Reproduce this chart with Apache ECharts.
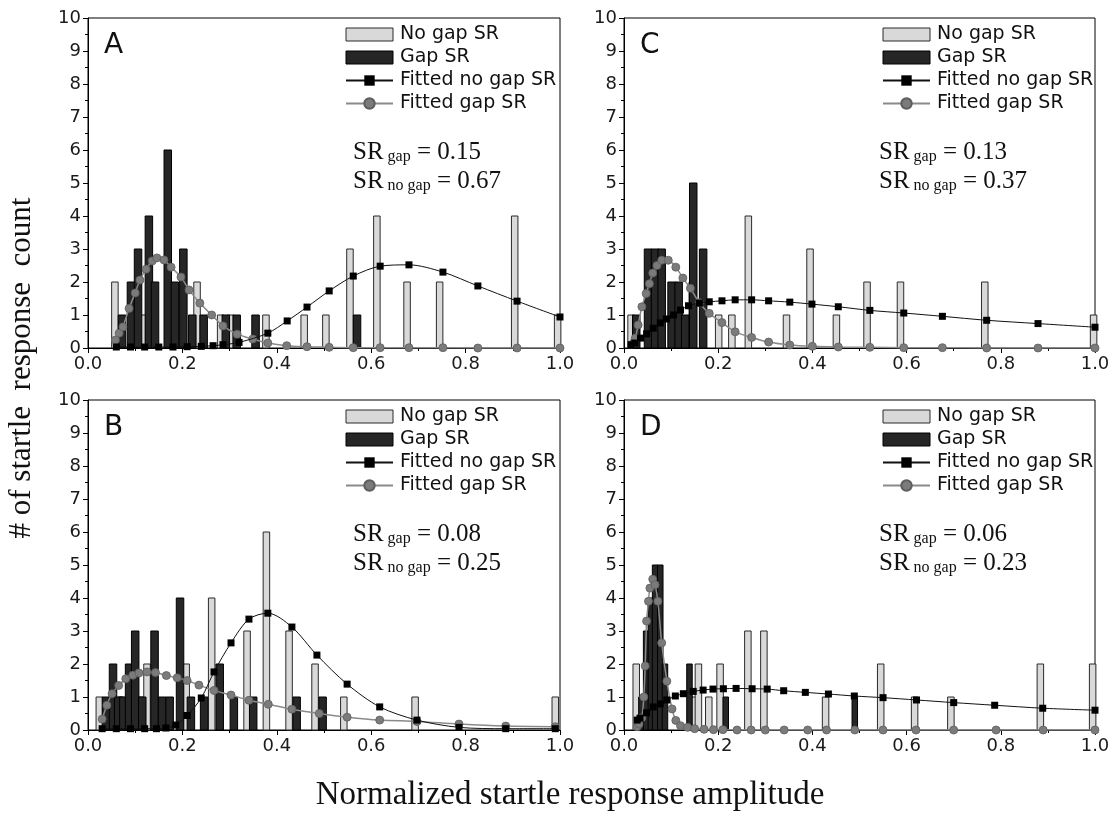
<!DOCTYPE html>
<html>
<head>
<meta charset="utf-8">
<script src="https://cdn.jsdelivr.net/npm/echarts@6/dist/echarts.min.js"></script>
<style>html,body{margin:0;padding:0;background:#fff;}#c{width:1115px;height:813px;}</style>
</head>
<body>
<div id="c"></div>
<script>
// ---- data ----
const xTickLabels = ['0.0','0.2','0.4','0.6','0.8','1.0'];
const seriesNames = ['No gap SR','Gap SR','Fitted no gap SR','Fitted gap SR'];
const panelLetters = ['A','B','C','D'];
const srGap = ['0.15','0.08','0.13','0.06'];
const srNoGap = ['0.67','0.25','0.37','0.23'];

const noGapA = [[0.057,2],[0.115,1],[0.281,1],[0.302,1],[0.231,2],[0.377,1],[0.458,1],[0.504,1],[0.555,3],[0.612,4],[0.676,2],[0.745,2],[0.904,4],[0.995,1]];
const gapA = [[0.072,1],[0.091,2],[0.106,3],[0.129,4],[0.142,2],[0.169,6],[0.184,2],[0.202,3],[0.221,1],[0.245,1],[0.292,1],[0.315,1],[0.355,1],[0.57,1]];
const fitNoGapA = [[0.06,0.03],[0.09,0.03],[0.12,0.03],[0.15,0.03],[0.18,0.03],[0.21,0.04],[0.24,0.05],[0.265,0.07],[0.286,0.1],[0.32,0.17],[0.381,0.45],[0.422,0.82],[0.464,1.24],[0.511,1.73],[0.562,2.18],[0.619,2.48],[0.68,2.52],[0.752,2.3],[0.826,1.88],[0.909,1.42],[1.0,0.94]];
const fitGapA = [[0.058,0.24],[0.066,0.45],[0.074,0.64],[0.087,1.2],[0.1,1.67],[0.11,2.06],[0.123,2.39],[0.136,2.64],[0.146,2.73],[0.161,2.67],[0.176,2.45],[0.197,2.15],[0.214,1.76],[0.237,1.36],[0.262,1.0],[0.286,0.67],[0.316,0.42],[0.349,0.27],[0.381,0.15],[0.421,0.07],[0.464,0.04],[0.511,0.02],[0.562,0.01],[0.619,0.01],[0.68,0.01],[0.752,0.01],[0.826,0],[0.909,0],[1.0,0]];

const noGapB = [[0.024,1],[0.07,1],[0.112,1],[0.125,2],[0.208,2],[0.262,4],[0.337,3],[0.378,6],[0.426,3],[0.481,2],[0.542,1],[0.693,1],[0.99,1]];
const gapB = [[0.038,1],[0.053,2],[0.064,1],[0.075,1],[0.087,2],[0.1,3],[0.115,1],[0.141,3],[0.157,1],[0.173,1],[0.195,4],[0.218,1],[0.246,1],[0.279,2],[0.309,1],[0.35,1],[0.442,1],[0.497,1]];
const fitNoGapB = [[0.03,0.04],[0.06,0.04],[0.09,0.04],[0.12,0.04],[0.145,0.04],[0.165,0.06],[0.186,0.15],[0.21,0.44],[0.24,0.97],[0.267,1.76],[0.303,2.64],[0.341,3.36],[0.381,3.54],[0.432,3.12],[0.485,2.27],[0.549,1.39],[0.618,0.7],[0.697,0.3],[0.786,0.08],[0.885,0.04],[0.99,0.04]];
const fitGapB = [[0.03,0.33],[0.04,0.75],[0.051,1.1],[0.065,1.35],[0.08,1.55],[0.095,1.66],[0.108,1.73],[0.125,1.76],[0.143,1.74],[0.166,1.65],[0.189,1.58],[0.21,1.5],[0.235,1.36],[0.267,1.2],[0.303,1.06],[0.341,0.9],[0.382,0.78],[0.432,0.63],[0.49,0.5],[0.549,0.39],[0.618,0.3],[0.697,0.26],[0.786,0.18],[0.885,0.12],[0.99,0.1]];

const noGapC = [[0.015,1],[0.145,2],[0.201,1],[0.229,1],[0.264,4],[0.345,1],[0.395,3],[0.451,1],[0.516,2],[0.587,2],[0.766,2],[0.997,1]];
const gapC = [[0.026,1],[0.051,3],[0.066,3],[0.08,3],[0.101,2],[0.116,2],[0.13,1],[0.147,5],[0.168,3]];
const fitNoGapC = [[0.015,0.1],[0.023,0.15],[0.035,0.3],[0.048,0.43],[0.062,0.6],[0.077,0.76],[0.09,0.88],[0.105,1.0],[0.12,1.15],[0.137,1.28],[0.16,1.36],[0.181,1.4],[0.208,1.43],[0.236,1.46],[0.271,1.46],[0.307,1.43],[0.352,1.39],[0.399,1.33],[0.455,1.25],[0.522,1.14],[0.594,1.06],[0.676,0.96],[0.77,0.84],[0.879,0.74],[1.0,0.63]];
const fitGapC = [[0.02,0.15],[0.024,0.3],[0.03,0.7],[0.038,1.25],[0.047,1.65],[0.054,1.95],[0.061,2.27],[0.07,2.5],[0.08,2.66],[0.094,2.66],[0.11,2.45],[0.125,2.12],[0.141,1.81],[0.16,1.37],[0.181,1.05],[0.208,0.77],[0.236,0.49],[0.271,0.32],[0.307,0.18],[0.352,0.09],[0.4,0.05],[0.455,0.03],[0.522,0.02],[0.594,0.01],[0.676,0.01],[0.77,0],[0.879,0],[1.0,0]];

const noGapD = [[0.026,2],[0.04,1],[0.15,1],[0.158,2],[0.18,1],[0.204,2],[0.263,3],[0.297,3],[0.428,1],[0.545,2],[0.617,1],[0.694,1],[0.884,2],[0.995,2]];
const gapD = [[0.037,1],[0.047,3],[0.057,4],[0.066,5],[0.077,5],[0.087,2],[0.139,2],[0.216,1],[0.49,1]];
const fitNoGapD = [[0.028,0.3],[0.034,0.36],[0.048,0.52],[0.062,0.7],[0.077,0.79],[0.091,0.91],[0.109,1.03],[0.126,1.1],[0.147,1.17],[0.168,1.21],[0.189,1.24],[0.211,1.25],[0.238,1.26],[0.272,1.25],[0.304,1.24],[0.339,1.19],[0.385,1.14],[0.434,1.09],[0.489,1.03],[0.55,0.98],[0.621,0.91],[0.7,0.83],[0.787,0.75],[0.889,0.66],[1.0,0.6]];
const fitGapD = [[0.028,0.1],[0.032,0.18],[0.038,0.37],[0.042,1.0],[0.045,1.94],[0.048,3.3],[0.052,3.9],[0.055,4.3],[0.061,4.57],[0.066,4.4],[0.072,3.9],[0.08,2.64],[0.091,1.48],[0.102,0.64],[0.11,0.29],[0.12,0.13],[0.135,0.08],[0.15,0.04],[0.17,0.02],[0.19,0.01],[0.21,0.01],[0.24,0],[0.27,0],[0.3,0],[0.34,0],[0.39,0],[0.43,0],[0.49,0],[0.55,0],[0.62,0],[0.7,0],[0.79,0],[0.89,0],[1.0,0]];

const panels = [
  {noGap: noGapA, gap: gapA, fitNoGap: fitNoGapA, fitGap: fitGapA},
  {noGap: noGapB, gap: gapB, fitNoGap: fitNoGapB, fitGap: fitGapB},
  {noGap: noGapC, gap: gapC, fitNoGap: fitNoGapC, fitGap: fitGapC},
  {noGap: noGapD, gap: gapD, fitNoGap: fitNoGapD, fitGap: fitGapD}
];

// ---- layout / style ----
const grids = [
  {left: 88, top: 18, width: 472, height: 330},
  {left: 88, top: 400, width: 472, height: 330},
  {left: 624, top: 18, width: 471, height: 330},
  {left: 624, top: 400, width: 471, height: 330}
];
const LIGHT = '#d9d9d9', DARK = '#262626', GREY = '#7b7b7b';
const sans = '"DejaVu Sans", "Liberation Sans", Arial, sans-serif';
const serif = '"Liberation Serif", "Times New Roman", serif';

function barRender(wPx) {
  return function (params, api) {
    const x = api.value(0), y = api.value(1);
    const p0 = api.coord([x, 0]);
    const p1 = api.coord([x, y]);
    return {
      type: 'rect',
      shape: {x: p0[0] - wPx / 2, y: p1[1], width: wPx, height: p0[1] - p1[1]},
      style: api.style()
    };
  };
}

const xAxes = [], yAxes = [], series = [], legends = [], graphics = [];
grids.forEach((g, i) => {
  xAxes.push({
    gridIndex: i, type: 'value', min: 0, max: 1, interval: 0.2,
    axisLine: {lineStyle: {color: '#000', width: 1}},
    axisTick: {show: true, length: 5, lineStyle: {color: '#000'}},
    minorTick: {show: true, splitNumber: 2, length: 3, lineStyle: {color: '#000'}},
    splitLine: {show: false},
    axisLabel: {fontFamily: sans, fontSize: 18, color: '#1a1a1a', margin: 7,
      formatter: v => xTickLabels[Math.round(v / 0.2)]}
  });
  yAxes.push({
    gridIndex: i, type: 'value', min: 0, max: 10, interval: 1,
    axisLine: {show: true, lineStyle: {color: '#000', width: 1}},
    axisTick: {show: true, length: 5, lineStyle: {color: '#000'}},
    minorTick: {show: true, splitNumber: 2, length: 3, lineStyle: {color: '#000'}},
    splitLine: {show: false},
    axisLabel: {fontFamily: sans, fontSize: 18, color: '#1a1a1a', margin: 7}
  });
  const p = panels[i];
  const darkW = (i === 3) ? 5.5 : 7.5;
  series.push({
    name: seriesNames[0], type: 'custom', xAxisIndex: i, yAxisIndex: i,
    renderItem: barRender(6.5), encode: {x: 0, y: 1}, data: p.noGap, z: 2,
    itemStyle: {color: LIGHT, borderColor: '#2a2a2a', borderWidth: 1}
  });
  series.push({
    name: seriesNames[1], type: 'custom', xAxisIndex: i, yAxisIndex: i,
    renderItem: barRender(darkW), encode: {x: 0, y: 1}, data: p.gap, z: 3,
    itemStyle: {color: DARK, borderColor: '#000', borderWidth: 1}
  });
  series.push({
    name: seriesNames[2], type: 'line', xAxisIndex: i, yAxisIndex: i, data: p.fitNoGap, z: 5,
    smooth: 0.3, symbol: 'rect', symbolSize: 7, showAllSymbol: true,
    lineStyle: {color: '#111', width: 1}, itemStyle: {color: '#000'}
  });
  series.push({
    name: seriesNames[3], type: 'line', xAxisIndex: i, yAxisIndex: i, data: p.fitGap, z: 4,
    smooth: 0.3, symbol: 'circle', symbolSize: 8, showAllSymbol: true,
    lineStyle: {color: '#8a8a8a', width: 1.5}, itemStyle: {color: GREY, borderColor: '#5e5e5e', borderWidth: 0.8}
  });
  const lx = g.left + (i < 2 ? 257 : 258);
  legends.push({
    orient: 'vertical', left: lx, top: g.top + 6, itemWidth: 47, itemHeight: 13, itemGap: 2,
    selectedMode: false, padding: 0,
    textStyle: {fontFamily: sans, fontSize: 19, color: '#111', padding: [0, 0, 0, 2], lineHeight: 21},
    data: [
      {name: seriesNames[0], icon: 'rect', itemStyle: {color: LIGHT, borderColor: '#2a2a2a', borderWidth: 1}},
      {name: seriesNames[1], icon: 'rect', itemStyle: {color: DARK, borderColor: '#000', borderWidth: 1}},
      {name: seriesNames[2]},
      {name: seriesNames[3]}
    ]
  });
  graphics.push({
    type: 'text', left: g.left + 16, top: g.top + 14,
    style: {text: panelLetters[i], font: '28px ' + sans, fill: '#111'}
  });
  graphics.push({
    type: 'text', left: g.left + (i < 2 ? 265 : 255), top: g.top + 122,
    style: {
      text: '{m|SR}{s| gap}{m| = ' + srGap[i] + '}\n{m|SR}{s| no gap}{m| = ' + srNoGap[i] + '}',
      rich: {
        m: {fontFamily: serif, fontSize: 25, lineHeight: 29, fill: '#111', verticalAlign: 'bottom'},
        s: {fontFamily: serif, fontSize: 16, lineHeight: 15, fill: '#111', verticalAlign: 'bottom'}
      }
    }
  });
});

graphics.push({
  type: 'text', x: 570, y: 795,
  style: {text: 'Normalized startle response amplitude', font: '33px ' + serif, fill: '#111', align: 'center', verticalAlign: 'middle'}
});
graphics.push({
  type: 'text', x: 22, y: 368, rotation: Math.PI / 2,
  style: {text: '# of startle  response  count', font: '31px ' + serif, fill: '#111', align: 'center', verticalAlign: 'middle'}
});

const chart = echarts.init(document.getElementById('c'), null, {renderer: 'canvas'});
chart.setOption({
  animation: false,
  backgroundColor: '#fff',
  grid: grids.map(g => Object.assign({show: true, borderColor: '#000', borderWidth: 1, backgroundColor: 'transparent', containLabel: false}, g)),
  xAxis: xAxes,
  yAxis: yAxes,
  legend: legends,
  series: series,
  graphic: graphics
});
</script>
</body>
</html>
